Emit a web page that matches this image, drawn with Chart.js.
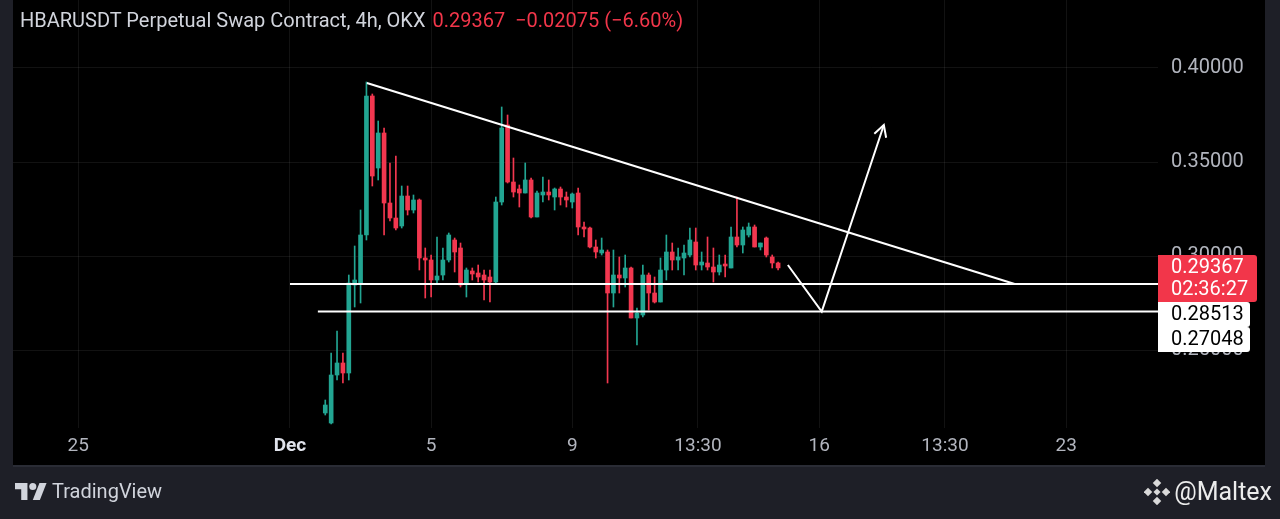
<!DOCTYPE html>
<html>
<head>
<meta charset="utf-8">
<script src="https://cdn.jsdelivr.net/npm/chart.js@4.4.1/dist/chart.umd.min.js"></script>
<style>
  html, body { margin: 0; padding: 0; background: #1e1f27; overflow: hidden; }
  #wrap { position: relative; width: 1280px; height: 519px; }
  #title { position: absolute; left: 20px; top: 8px; font: 20px Roboto, sans-serif; color: #d1d4dc; white-space: pre; }
  #title .red { color: #f2364a; margin-left: 7px; }
  #brand { position: absolute; left: 15px; top: 479px; display: flex; align-items: center; font: 20px Roboto, sans-serif; color: #d1d4dc; }
  #brand svg { margin-right: 5px; }
  #author { position: absolute; right: 8px; top: 477px; display: flex; align-items: center; font: 25px Roboto, sans-serif; color: #ececec; }
  #author svg { margin-right: 4px; }
</style>
</head>
<body>
<div id="wrap">
  <canvas id="myChart"></canvas>
  <div id="title">HBARUSDT Perpetual Swap Contract, 4h, OKX<span class="red">0.29367  −0.02075 (−6.60%)</span></div>
  <div id="brand">
    <svg width="32" height="18" viewBox="0 0 36 20"><path d="M14 20H7V8H0V1h14z" fill="#d1d4dc"/><circle cx="20" cy="5" r="4" fill="#d1d4dc"/><path d="M28 20h-8l7.5-19h8z" fill="#d1d4dc"/></svg>
    <span>TradingView</span>
  </div>
  <div id="author">
    <svg width="26" height="26" viewBox="0 0 26 26" fill="#d9d9d9">
      <rect x="10" y="1" width="6" height="6" transform="rotate(45 13 4)"/>
      <rect x="10" y="19" width="6" height="6" transform="rotate(45 13 22)"/>
      <rect x="1" y="10" width="6" height="6" transform="rotate(45 4 13)"/>
      <rect x="19" y="10" width="6" height="6" transform="rotate(45 22 13)"/>
      <rect x="10.5" y="10.5" width="5" height="5" transform="rotate(45 13 13)"/>
    </svg>
    <span>@Maltex</span>
  </div>
</div>
<script>
// time axis in days from Dec 1 00:00
var dayTicks = [-6, 0, 4, 8, 11.5625, 15, 18.5625, 22];
var dayTickLabels = ['25', 'Dec', '5', '9', '13:30', '16', '13:30', '23'];
var priceTicks = [0.25, 0.30, 0.35, 0.40];

// 4h candles, first one Dec 2 00:00
var firstCandleDay = 1;
var candleStep = 1 / 6;
var open = [0.21649, 0.21117, 0.23670, 0.24309, 0.23777, 0.28457, 0.28564, 0.31117, 0.38511, 0.34681,
    0.36543, 0.32819, 0.32021, 0.31596, 0.33191, 0.32447, 0.32979, 0.29894, 0.29787, 0.28723,
    0.28989, 0.29787, 0.30851, 0.30426, 0.28564, 0.29202, 0.29096, 0.28989, 0.28883, 0.28617,
    0.32872, 0.36968, 0.33936, 0.33564, 0.33351, 0.34043, 0.32074, 0.33245, 0.33404, 0.33138,
    0.33564, 0.33138, 0.32872, 0.33351, 0.31543, 0.31489, 0.30479, 0.30160, 0.30213, 0.28032,
    0.28989, 0.28830, 0.29362, 0.26702, 0.26862, 0.28989, 0.28032, 0.27553, 0.29255, 0.30213,
    0.29787, 0.29894, 0.30053, 0.30745, 0.29521, 0.29628, 0.29415, 0.29149, 0.29574, 0.29362,
    0.31011, 0.30585, 0.31117, 0.31543, 0.30479, 0.30957, 0.29947, 0.29628];
var high = [0.22340, 0.24840, 0.26011, 0.24840, 0.28989, 0.30532, 0.32447, 0.39255, 0.38617, 0.37181,
    0.36809, 0.34947, 0.35319, 0.33723, 0.33723, 0.33245, 0.33032, 0.30426, 0.30053, 0.31011,
    0.30426, 0.31223, 0.30957, 0.30691, 0.29362, 0.29362, 0.29521, 0.29255, 0.29255, 0.33138,
    0.37926, 0.37500, 0.35213, 0.33777, 0.34947, 0.34149, 0.33457, 0.34202, 0.34043, 0.33617,
    0.33670, 0.33404, 0.33351, 0.33617, 0.31809, 0.31543, 0.30851, 0.30957, 0.30319, 0.30319,
    0.29947, 0.30053, 0.29415, 0.27234, 0.29521, 0.29096, 0.28883, 0.29894, 0.31117, 0.30691,
    0.30426, 0.30585, 0.31489, 0.31489, 0.30213, 0.31011, 0.30426, 0.30053, 0.30053, 0.31543,
    0.33138, 0.31543, 0.31755, 0.31649, 0.30691, 0.31011, 0.30053, 0.29681];
var low = [0.21543, 0.21064, 0.23404, 0.23245, 0.23404, 0.27287, 0.27500, 0.30851, 0.33723, 0.34043,
    0.31117, 0.31862, 0.31383, 0.31489, 0.32181, 0.32287, 0.29255, 0.27766, 0.27819, 0.28564,
    0.28723, 0.29681, 0.29149, 0.28351, 0.27819, 0.28723, 0.28617, 0.27660, 0.27553, 0.28564,
    0.32713, 0.33883, 0.33138, 0.32606, 0.33351, 0.32021, 0.32074, 0.32872, 0.32979, 0.32447,
    0.32713, 0.32606, 0.32553, 0.31117, 0.31011, 0.30426, 0.29894, 0.30053, 0.23245, 0.27287,
    0.28032, 0.28351, 0.26702, 0.25266, 0.26755, 0.27128, 0.27500, 0.27553, 0.28723, 0.29255,
    0.29255, 0.28989, 0.29947, 0.29255, 0.29255, 0.29255, 0.28617, 0.28989, 0.28883, 0.29362,
    0.30479, 0.30160, 0.31011, 0.30479, 0.30319, 0.29947, 0.29362, 0.29255];
var close = [0.22074, 0.23670, 0.24309, 0.23777, 0.28564, 0.28723, 0.31117, 0.38511, 0.34255, 0.36543,
    0.32819, 0.32021, 0.31489, 0.33191, 0.32447, 0.32979, 0.29894, 0.29787, 0.28723, 0.28936,
    0.29787, 0.31117, 0.30213, 0.28457, 0.29255, 0.29043, 0.28883, 0.28723, 0.28617, 0.32872,
    0.36809, 0.33936, 0.33404, 0.33351, 0.34043, 0.32074, 0.33351, 0.33404, 0.33245, 0.33564,
    0.33138, 0.32979, 0.33298, 0.31543, 0.31436, 0.30479, 0.30213, 0.30319, 0.28032, 0.28989,
    0.28830, 0.29362, 0.26702, 0.26968, 0.28989, 0.28032, 0.27553, 0.29255, 0.30213, 0.29787,
    0.29947, 0.30160, 0.30851, 0.29521, 0.29681, 0.29415, 0.29149, 0.29521, 0.29468, 0.31011,
    0.30585, 0.31383, 0.31543, 0.30479, 0.30691, 0.30053, 0.29628, 0.29367];

// drawn lines (day, price)
var resistanceLine = [{x: 2.18, y: 0.39202}, {x: 20.54, y: 0.28513}];
var supportHigh = [{x: 0, y: 0.28513}, {x: 24.6, y: 0.28513}];
var supportLow = [{x: 0.79, y: 0.27048}, {x: 24.6, y: 0.27048}];
var projection = [{x: 14.11, y: 0.29521}, {x: 15.07, y: 0.27048}, {x: 16.83, y: 0.36968}];

var lastPrice = 0.29367;
var countdown = '02:36:27';
var levelTags = [0.28513, 0.27048];

var GREEN = '#22a592';
var RED = '#f2374f';

var times = open.map(function (v, i) { return firstCandleDay + i * candleStep; });
var colors = close.map(function (c, i) { return c >= open[i] ? GREEN : RED; });
var wicks = times.map(function (t, i) { return {x: t, y: [low[i], high[i]]}; });
var bodies = times.map(function (t, i) { return {x: t, y: [open[i], close[i]]}; });

function lineSet(points) {
    return {
        type: 'line', data: points, borderColor: '#ffffff', borderWidth: 2,
        pointRadius: 0, tension: 0, order: 0, fill: false
    };
}

var bgPlugin = {
    id: 'bg',
    beforeDraw: function (chart) {
        var c = chart.ctx;
        c.save();
        c.fillStyle = '#1e1f27';
        c.fillRect(0, 0, chart.width, chart.height);
        c.fillStyle = '#000000';
        c.fillRect(13, 0, 1252, 465);
        c.fillStyle = '#2a2c35';
        c.fillRect(13, 465, 1252, 2);
        c.restore();
    }
};

var tagsPlugin = {
    id: 'tags',
    afterDatasetsDraw: function (chart) {
        // arrow head on projection path
        var pts = chart.getDatasetMeta(3).data;
        var a = pts[pts.length - 2], b = pts[pts.length - 1];
        var ang = Math.atan2(b.y - a.y, b.x - a.x);
        var c = chart.ctx;
        c.save();
        c.strokeStyle = '#ffffff';
        c.lineWidth = 2;
        c.beginPath();
        c.moveTo(b.x - 13 * Math.cos(ang - 0.5), b.y - 13 * Math.sin(ang - 0.5));
        c.lineTo(b.x, b.y);
        c.lineTo(b.x - 13 * Math.cos(ang + 0.5), b.y - 13 * Math.sin(ang + 0.5));
        c.stroke();
        c.restore();
    },
    afterDraw: function (chart) {
        var c = chart.ctx;
        var yS = chart.scales.y;
        var left = chart.chartArea.right;
        var py = yS.getPixelForValue(lastPrice);
        var top = Math.round(py - 13);
        c.save();
        c.fillStyle = '#f2364a';
        c.beginPath();
        c.roundRect(left, top, 99, 47, [0, 3, 3, 0]);
        c.fill();
        c.font = '20px Roboto, sans-serif';
        c.textBaseline = 'middle';
        c.fillStyle = '#ffffff';
        c.fillText(lastPrice.toFixed(5), left + 13, top + 13);
        c.fillText(countdown, left + 13, top + 35);
        var t2 = top + 47;
        levelTags.forEach(function (v, i) {
            c.fillStyle = '#ffffff';
            c.beginPath();
            c.roundRect(left, t2 + i * 25, 92, 25, [0, 3, 3, 0]);
            c.fill();
            c.fillStyle = '#000000';
            c.fillText(v.toFixed(5), left + 13, t2 + i * 25 + 13);
        });
        c.restore();
    }
};

var ctx = document.getElementById('myChart').getContext('2d');
var myChart = new Chart(ctx, {
    type: 'bar',
    data: {
        datasets: [
            lineSet(resistanceLine),
            lineSet(supportHigh),
            lineSet(supportLow),
            lineSet(projection),
            {
                data: bodies, backgroundColor: colors, barThickness: 4,
                minBarLength: 1, grouped: false, order: 1
            },
            {
                data: wicks, backgroundColor: colors, barThickness: 1,
                grouped: false, order: 2
            }
        ]
    },
    options: {
        responsive: true,
        maintainAspectRatio: false,
        animation: false,
        layout: {
            padding: {left: 13, right: 15, top: 0, bottom: 54}
        },
        plugins: {
            legend: {display: false},
            tooltip: {enabled: false}
        },
        scales: {
            x: {
                type: 'linear',
                min: -7.85,
                max: 24.6,
                offset: false,
                afterBuildTicks: function (scale) {
                    scale.ticks = dayTicks.map(function (v) { return {value: v}; });
                },
                afterFit: function (scale) {
                    scale.height = 37;
                    scale.paddingLeft = 0;
                    scale.paddingRight = 0;
                },
                ticks: {
                    autoSkip: false,
                    maxRotation: 0,
                    padding: 7,
                    color: function (c) { return c.index === 1 ? '#e0e3eb' : '#b2b5be'; },
                    font: function (c) {
                        return {family: 'Roboto, sans-serif', size: 19, weight: c.index === 1 ? 'bold' : 'normal'};
                    },
                    callback: function (value, index) { return dayTickLabels[index]; }
                },
                grid: {color: 'rgba(255,255,255,0.07)', drawTicks: false, offset: false},
                border: {display: false}
            },
            y: {
                position: 'right',
                min: 0.208511,
                max: 0.43617,
                afterBuildTicks: function (scale) {
                    scale.ticks = priceTicks.map(function (v) { return {value: v}; });
                },
                afterFit: function (scale) {
                    scale.width = 107;
                    scale.paddingTop = 0;
                    scale.paddingBottom = 0;
                },
                ticks: {
                    padding: 13,
                    color: '#b2b5be',
                    font: {family: 'Roboto, sans-serif', size: 20},
                    callback: function (value) { return value.toFixed(5); }
                },
                grid: {color: 'rgba(255,255,255,0.07)', drawTicks: false},
                border: {display: false}
            }
        }
    },
    plugins: [bgPlugin, tagsPlugin]
});
</script>
</body>
</html>
